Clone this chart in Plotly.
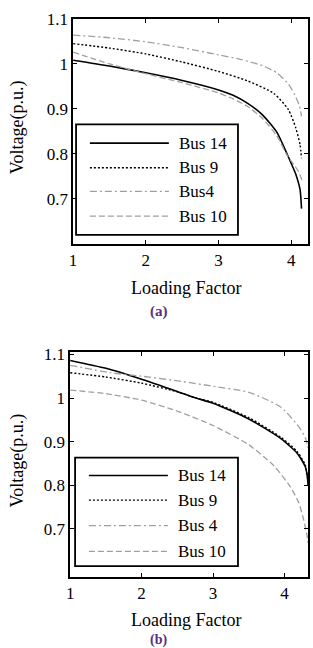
import plotly.graph_objects as go

W, H = 313, 648
SERIF = "Liberation Serif, Times New Roman, DejaVu Serif, serif"
GRAY = "#a0a0a0"

# ---------------- data: panel (a) ----------------
lf_a14 = [1.0, 1.5, 2.0, 2.5, 3.0, 3.2, 3.4, 3.6, 3.8, 3.94, 4.0, 4.06, 4.12, 4.14]
v_a14 = [1.008, 0.995, 0.98, 0.963, 0.942, 0.93, 0.912, 0.887, 0.848, 0.80, 0.778, 0.755, 0.72, 0.678]
lf_a9 = [1.0, 1.5, 2.0, 2.5, 3.0, 3.4, 3.76, 3.96, 4.06, 4.12, 4.14]
v_a9 = [1.045, 1.035, 1.022, 1.004, 0.983, 0.962, 0.934, 0.898, 0.858, 0.82, 0.79]
lf_a4 = [1.0, 1.5, 2.0, 2.5, 3.0, 3.3, 3.6, 3.8, 3.96, 4.05, 4.11, 4.14]
v_a4 = [1.064, 1.058, 1.049, 1.036, 1.02, 1.01, 0.996, 0.98, 0.955, 0.93, 0.907, 0.883]
lf_a10 = [1.0, 1.5, 1.9, 2.5, 3.0, 3.2, 3.4, 3.6, 3.8, 3.94, 4.04, 4.1, 4.15]
v_a10 = [1.026, 1.0, 0.982, 0.958, 0.935, 0.922, 0.905, 0.879, 0.84, 0.797, 0.775, 0.76, 0.74]

# ---------------- data: panel (b) ----------------
lf_b14 = [1.0, 1.5, 2.0, 2.5, 2.76, 3.0, 3.5, 3.95, 4.18, 4.29, 4.32, 4.33]
v_b14 = [1.086, 1.068, 1.043, 1.015, 1.0, 0.988, 0.952, 0.907, 0.873, 0.843, 0.82, 0.80]
lf_b9 = [1.0, 1.5, 2.0, 2.5, 2.76, 3.0, 3.5, 3.95, 4.18, 4.29, 4.32, 4.33]
v_b9 = [1.058, 1.048, 1.034, 1.014, 1.0, 0.99, 0.955, 0.91, 0.877, 0.847, 0.82, 0.80]
lf_b4 = [1.0, 1.56, 2.0, 2.56, 3.0, 3.5, 3.95, 4.22, 4.3, 4.33]
v_b4 = [1.075, 1.058, 1.05, 1.038, 1.027, 1.013, 0.979, 0.93, 0.905, 0.885]
lf_b10 = [1.0, 1.5, 2.0, 2.5, 3.0, 3.5, 3.85, 4.08, 4.2, 4.27, 4.31, 4.33]
v_b10 = [1.018, 1.01, 0.995, 0.97, 0.937, 0.893, 0.845, 0.797, 0.76, 0.72, 0.69, 0.668]

legend_a = ["Bus 14", "Bus 9", "Bus4", "Bus 10"]
legend_b = ["Bus 14", "Bus 9", "Bus 4", "Bus 10"]

x_ticks = [1, 2, 3, 4]
y_ticks = [0.7, 0.8, 0.9, 1.0, 1.1]
y_tick_text = ["0.7", "0.8", "0.9", "1", "1.1"]

styles = [
    dict(color="black", width=1.6, dash="solid"),
    dict(color="black", width=1.4, dash="2px,2px"),
    dict(color=GRAY, width=1.3, dash="7px,3px,2px,3px"),
    dict(color=GRAY, width=1.3, dash="6px,3px"),
]

fig = go.Figure()

series_a = [(lf_a14, v_a14), (lf_a9, v_a9), (lf_a4, v_a4), (lf_a10, v_a10)]
series_b = [(lf_b14, v_b14), (lf_b9, v_b9), (lf_b4, v_b4), (lf_b10, v_b10)]

for (xs, ys), st, name in zip(series_a, styles, legend_a):
    fig.add_trace(go.Scatter(x=xs, y=ys, mode="lines", line=dict(shape="spline", smoothing=0.6, **st),
                             name=name, showlegend=False, xaxis="x", yaxis="y"))
for (xs, ys), st, name in zip(series_b, styles, legend_b):
    fig.add_trace(go.Scatter(x=xs, y=ys, mode="lines", line=dict(shape="spline", smoothing=0.6, **st),
                             name=name, showlegend=False, xaxis="x2", yaxis="y2"))


def px(x):
    return x / W


def py(y):
    return 1 - y / H


axis_common = dict(
    showline=True, linecolor="black", linewidth=1.6, mirror="ticks",
    ticks="inside", ticklen=4, tickwidth=1, tickcolor="black",
    showgrid=False, zeroline=False,
    tickfont=dict(family=SERIF, size=17, color="black"),
)

fig.update_layout(
    width=W, height=H,
    margin=dict(l=0, r=0, t=0, b=0),
    paper_bgcolor="white", plot_bgcolor="white",
    showlegend=False,
    font=dict(family=SERIF),
    xaxis=dict(domain=[px(70), px(308)], range=[1, 4.23], tickvals=x_ticks, anchor="y", **axis_common),
    yaxis=dict(domain=[py(238), py(10)], range=[0.6, 1.1], tickvals=y_ticks, ticktext=y_tick_text,
               anchor="x", **axis_common),
    xaxis2=dict(domain=[px(67), px(308)], range=[1, 4.33], tickvals=x_ticks, anchor="y2", **axis_common),
    yaxis2=dict(domain=[py(576), py(348)], range=[0.59, 1.105], tickvals=y_ticks, ticktext=y_tick_text,
                anchor="x2", **axis_common),
)

shapes = []
annotations = []


def add_legend(box, rows, names, x0, x1, xt):
    shapes.append(dict(type="rect", xref="paper", yref="paper",
                       x0=px(box[0]), x1=px(box[1]), y0=py(box[3]), y1=py(box[2]),
                       line=dict(color="black", width=1.8), fillcolor="white", layer="above"))
    for yy, st, name in zip(rows, styles, names):
        shapes.append(dict(type="line", xref="paper", yref="paper",
                           x0=px(x0), x1=px(x1), y0=py(yy), y1=py(yy),
                           line=dict(color=st["color"], width=st["width"], dash=st["dash"]), layer="above"))
        annotations.append(dict(text=name, xref="paper", yref="paper", x=px(xt), y=py(yy),
                                xanchor="left", yanchor="middle", showarrow=False,
                                font=dict(family=SERIF, size=17, color="black")))


add_legend((73, 237, 117, 229), [136, 161, 185, 210], legend_a, 87, 167, 175)
add_legend((72, 237, 455, 565), [473, 498, 524, 550], legend_b, 86, 166, 174)

for yc in (120, 458):
    annotations.append(dict(text="Voltage(p.u.)", xref="paper", yref="paper", x=px(14), y=py(yc),
                            textangle=-90, showarrow=False, xanchor="center", yanchor="middle",
                            font=dict(family=SERIF, size=18, color="black")))
for yc in (283, 620):
    annotations.append(dict(text="Loading Factor", xref="paper", yref="paper", x=px(184), y=py(yc),
                            showarrow=False, xanchor="center", yanchor="middle",
                            font=dict(family=SERIF, size=18, color="black")))
annotations.append(dict(text="<b>(a)</b>", xref="paper", yref="paper", x=px(157), y=py(307),
                        showarrow=False, xanchor="center", yanchor="middle",
                        font=dict(family=SERIF, size=15, color="#5a2d82")))
annotations.append(dict(text="<b>(b)</b>", xref="paper", yref="paper", x=px(156), y=py(640),
                        showarrow=False, xanchor="center", yanchor="middle",
                        font=dict(family=SERIF, size=14, color="#5a2d82")))

fig.update_layout(shapes=shapes, annotations=annotations)

fig.write_html("out.html")
